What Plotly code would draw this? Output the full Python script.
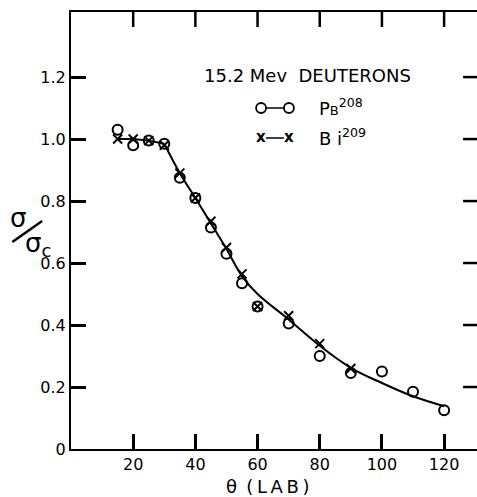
import plotly.graph_objects as go

# ---- data ----
pb_angle = [15, 20, 25, 30, 35, 40, 45, 50, 55, 60, 70, 80, 90, 100, 110, 120]
pb_ratio = [1.03, 0.98, 0.995, 0.985, 0.875, 0.81, 0.715, 0.63, 0.535, 0.46, 0.405, 0.30, 0.245, 0.25, 0.185, 0.125]

bi_angle = [15, 20, 25, 30, 35, 40, 45, 50, 55, 60, 70, 80, 90]
bi_ratio = [1.0, 1.0, 0.995, 0.98, 0.89, 0.81, 0.735, 0.65, 0.565, 0.46, 0.43, 0.34, 0.26]

flat_angle = [15, 20, 25, 30]
flat_ratio = [1.0, 1.0, 0.995, 0.985]

fit_angle = [30, 35, 40, 45, 50, 55, 60, 70, 80, 90, 100, 110, 120]
fit_ratio = [0.985, 0.89, 0.81, 0.728, 0.645, 0.558, 0.50, 0.418, 0.333, 0.262, 0.213, 0.17, 0.138]

x_ticks = [20, 40, 60, 80, 100, 120]
x_ticktext = ["20", "40", "60", "80", "100", "120"]
y_ticks = [0, 0.2, 0.4, 0.6, 0.8, 1.0, 1.2]
y_ticktext = ["0", "0.2", "0.4", "0.6", "0.8", "1.0", "1.2"]

FONT = "DejaVu Sans"
# the frame's right edge lies just outside the 477px window, as in the scan
W, H = 480, 497
L, R, T, B = 71, 0, 12, 48
PW, PH = W - L - R, H - T - B
X_RANGE = [0, 130.9]
Y_RANGE = [0, 1.41]
TICK_LEN = 15


def px(xp):
    return (xp - L) / PW


def py(yp):
    return (H - B - yp) / PH


fig = go.Figure()
fig.add_trace(go.Scatter(x=flat_angle, y=flat_ratio, mode="lines",
                         line=dict(color="black", width=2), hoverinfo="skip"))
fig.add_trace(go.Scatter(x=fit_angle, y=fit_ratio, mode="lines",
                         line=dict(color="black", width=2, shape="spline", smoothing=1.0),
                         hoverinfo="skip"))
fig.add_trace(go.Scatter(x=pb_angle, y=pb_ratio, mode="markers", name="Pb208",
                         marker=dict(symbol="circle-open", size=10, color="black",
                                     line=dict(width=2, color="black"))))
fig.add_trace(go.Scatter(x=bi_angle, y=bi_ratio, mode="markers", name="Bi209",
                         marker=dict(symbol="x-thin-open", size=9, color="black",
                                     line=dict(width=2, color="black"))))

TS = "\u2009"
annotations = [
    dict(text="15.2 Mev  DEUTERONS", x=px(309), y=py(76), font=dict(size=18)),
    dict(text="P<span style='font-size:13px'>B</span><sup>208</sup>", x=px(318), y=py(107),
         xanchor="left", font=dict(size=18)),
    dict(text="B i<sup>209</sup>", x=px(318), y=py(137), xanchor="left", font=dict(size=18)),
    dict(text="<b>x</b>", x=px(262), y=py(137), font=dict(size=15)),
    dict(text="<b>x</b>", x=px(290), y=py(137), font=dict(size=15)),
    dict(text="θ " + TS + "(" + TS + "L" + TS + "A" + TS + "B" + TS + ")", x=px(268), y=py(486),
         font=dict(size=18)),
    dict(text="σ", x=px(18), y=py(218), font=dict(size=26)),
    dict(text="σ<sub>c</sub>", x=px(38), y=py(245), font=dict(size=26)),
]
for a in annotations:
    a.setdefault("xanchor", "center")
    a.update(xref="paper", yref="paper", yanchor="middle", showarrow=False)
    a["font"].update(family=FONT, color="black")

tick_line = dict(color="black", width=2.5)
shapes = [
    # y-title slash
    dict(type="line", xref="paper", yref="paper", x0=px(12), y0=py(242), x1=px(42), y1=py(221),
         line=dict(color="black", width=2.5)),
    # legend samples
    dict(type="line", xref="paper", yref="paper", x0=px(267), y0=py(108), x1=px(285), y1=py(108),
         line=dict(color="black", width=1.5)),
    dict(type="line", xref="paper", yref="paper", x0=px(267), y0=py(138), x1=px(285), y1=py(138),
         line=dict(color="black", width=1.5)),
]
for cx in (262, 290):
    shapes.append(dict(type="circle", xref="paper", yref="paper",
                       xsizemode="pixel", ysizemode="pixel",
                       xanchor=px(cx), yanchor=py(108), x0=-5, x1=5, y0=-5, y1=5,
                       line=dict(color="black", width=1.8)))
# inward ticks on the top and right sides of the frame, at the axis tick values
for v in x_ticks:
    shapes.append(dict(type="line", xref="x", yref="paper", x0=v, x1=v, layer="above",
                       y0=1, y1=1 - TICK_LEN / PH, line=tick_line))
for v in y_ticks[1:]:
    shapes.append(dict(type="line", xref="paper", yref="y", y0=v, y1=v, layer="above",
                       x0=1, x1=1 - TICK_LEN / PW, line=tick_line))

fig.update_layout(
    width=W, height=H,
    margin=dict(l=L, r=R, t=T, b=B),
    paper_bgcolor="white", plot_bgcolor="white",
    showlegend=False,
    font=dict(family=FONT, color="black"),
    xaxis=dict(range=X_RANGE, showline=True, linecolor="black", linewidth=2,
               mirror=True, ticks="inside", ticklen=TICK_LEN, tickwidth=2.5, tickcolor="black",
               tickvals=x_ticks, ticktext=x_ticktext, showgrid=False, zeroline=False,
               tickfont=dict(family=FONT, size=16, color="black")),
    yaxis=dict(range=Y_RANGE, showline=True, linecolor="black", linewidth=2,
               mirror=True, ticks="inside", ticklen=TICK_LEN, tickwidth=2.5, tickcolor="black",
               tickvals=y_ticks, ticktext=y_ticktext, showgrid=False, zeroline=False,
               tickfont=dict(family=FONT, size=16, color="black")),
    annotations=annotations,
    shapes=shapes,
)

fig.write_html(
    "out.html",
    config={"displayModeBar": False},
    post_script="document.body.style.margin='0';document.body.style.overflow='hidden';",
)
